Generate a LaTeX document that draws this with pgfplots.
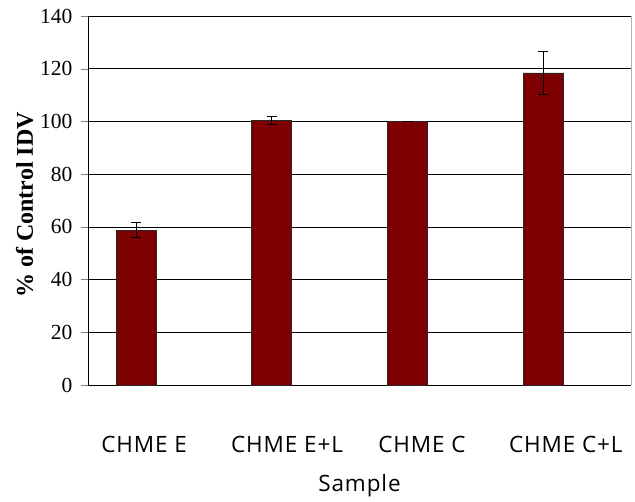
\documentclass[border=0pt]{standalone}
\usepackage{fontspec}
\setmainfont{Liberation Serif}
\newfontfamily\sansf[LetterSpace=4]{Open Sans}
\usepackage{pgfplots}
\pgfplotsset{compat=1.18}
\definecolor{barred}{HTML}{7F0000}
\begin{document}
\begin{tikzpicture}
\begin{axis}[
  scale only axis,
  width=543pt, height=369pt,
  xmin=0, xmax=4, ymin=0, ymax=140,
  ytick={0,20,...,140},
  ymajorgrids,
  grid style={black, line width=0.6pt},
  axis line style={black, line width=0.8pt},
  axis x line*=bottom, axis y line*=left,
  /pgf/number format/assume math mode=true,
  yticklabel style={font=\fontsize{21.5}{25}\selectfont, xshift=-5pt},
  tick align=outside,
  major tick length=7pt,
  ytick pos=left, xtick pos=bottom,
  xtick={0.413,1.466,2.46,3.52},
  xticklabels={CHME E, CHME E+L, CHME C, CHME C+L},
  major x tick style={draw=none},
  xticklabel style={font=\sansf\fontsize{22.5}{26}\selectfont, yshift=-41pt},
  extra x ticks={0,1,2,3,4},
  extra x tick labels={},
  extra x tick style={grid=none, major tick length=8pt, tick style={draw=black, line width=0.8pt}},
  xlabel={Sample},
  xlabel style={font=\sansf\fontsize{22.5}{26}\selectfont, yshift=1pt},
  ylabel={\textbf{\% of Control IDV}},
  ylabel style={font=\fontsize{24}{28}\selectfont, at={(ticklabel cs:0.488)}},
  clip=false,
]
\addplot[ybar, bar width=0.295, fill=barred, draw=black!85, line width=0.8pt,
  error bars/.cd, y dir=both, y explicit,
  error bar style={black, line width=0.9pt},
  error mark options={rotate=90, mark size=5pt, line width=0.9pt, black}]
  coordinates {
  (0.354,58.8) +- (0,2.8)
  (1.354,100.2) +- (0,1.5)
  (2.354,100) +- (0,0)
  (3.354,118.4) +- (0,8.3)
};
\draw[gray!60, line width=0.8pt] (axis cs:4,0) -- (axis cs:4,140);
\coordinate (sw) at (rel axis cs:0,0);
\coordinate (ne) at (rel axis cs:1,1);
\end{axis}
\pgfresetboundingbox
\path ([shift={(-88pt,-117pt)}]sw) rectangle ([shift={(4pt,16pt)}]ne);
\end{tikzpicture}
\end{document}
